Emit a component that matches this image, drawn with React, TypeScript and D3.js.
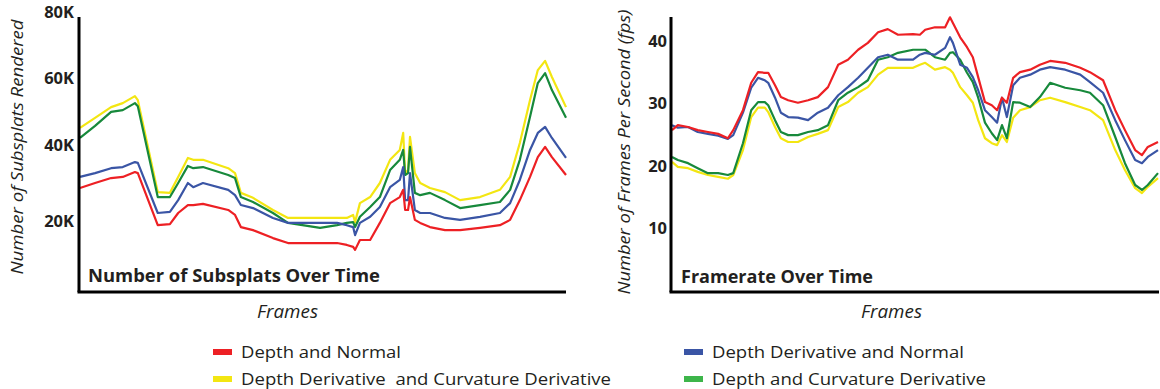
import React from "react";
import * as d3 from "d3";

// frame positions (0..1000) where the curves were sampled
const leftFrames = [
  0, 31, 64, 88, 113, 119, 160, 185, 202, 222, 233, 253, 305, 319, 331, 356, 397, 428, 494, 529,
  549, 562, 566, 576, 597, 617, 638, 658, 665, 669, 675, 679, 689, 700, 720, 751, 782, 823, 864, 885,
  905, 926, 942, 957, 971, 1000,
];

// number of subsplats rendered, in thousands
const subsplatsDepthNormal = [
  28.7, 30.0, 31.3, 31.6, 32.9, 32.6, 18.9, 19.2, 22.1, 24.2, 24.2, 24.5, 22.9, 21.6, 18.4, 17.6, 15.5, 14.2, 14.2, 14.2,
  13.7, 13.2, 12.4, 15.0, 15.0, 19.5, 24.7, 26.3, 28.2, 22.9, 22.9, 26.3, 20.3, 19.5, 18.4, 17.6, 17.6, 18.2, 18.9, 20.3,
  25.5, 31.6, 36.8, 39.5, 36.8, 32.1,
];
const subsplatsDerivNormal = [
  31.6, 32.6, 33.9, 34.2, 35.5, 35.3, 22.1, 22.4, 25.5, 30.0, 28.9, 30.0, 28.2, 26.8, 24.2, 23.4, 20.8, 19.5, 19.5, 19.5,
  18.9, 18.4, 16.3, 19.5, 21.1, 23.7, 28.9, 30.8, 34.2, 25.5, 25.5, 32.6, 22.9, 22.1, 22.1, 20.8, 20.3, 21.1, 22.1, 24.7,
  30.8, 38.7, 43.6, 45.4, 42.1, 36.6,
];
const subsplatsDerivCurv = [
  45.1, 48.1, 51.3, 52.5, 54.6, 53.4, 27.6, 27.4, 31.6, 36.6, 36.1, 36.1, 33.9, 32.6, 27.4, 26.1, 22.9, 20.8, 20.8, 20.8,
  20.8, 21.6, 19.7, 24.7, 26.3, 30.0, 36.1, 38.7, 43.6, 32.6, 33.4, 42.4, 32.6, 30.0, 28.7, 27.6, 25.5, 26.3, 28.2, 31.6,
  40.6, 53.4, 62.4, 65.2, 60.3, 51.3,
];
const subsplatsDepthCurv = [
  42.1, 45.7, 49.9, 50.4, 52.5, 51.6, 26.3, 26.3, 30.0, 34.5, 33.9, 34.2, 32.1, 31.3, 26.3, 25.0, 22.1, 19.5, 18.2, 18.9,
  19.5, 19.7, 18.4, 21.1, 23.7, 26.3, 33.4, 36.1, 38.7, 32.1, 32.6, 39.5, 27.4, 26.8, 27.4, 25.5, 23.4, 24.2, 25.0, 28.2,
  36.1, 48.4, 58.5, 61.5, 56.4, 48.1,
];

const rightFrames = [
  0, 12, 33, 53, 74, 95, 115, 126, 146, 163, 177, 191, 198, 212, 224, 239, 259, 280, 300, 321,
  342, 362, 383, 403, 424, 444, 465, 496, 510, 521, 541, 562, 572, 578, 593, 607, 619, 630, 644, 658,
  669, 679, 689, 702, 716, 737, 757, 778, 809, 840, 860, 887, 912, 932, 953, 967, 979, 1000,
];

// frames per second
const fpsDepthNormal = [
  25.7, 26.5, 26.2, 25.7, 25.4, 25.1, 24.4, 25.7, 28.9, 33.3, 35.0, 34.9, 34.9, 32.9, 31.0, 30.5, 30.1, 30.5, 31.0, 32.6,
  36.2, 37.0, 38.6, 39.7, 41.4, 41.9, 41.0, 41.1, 41.0, 41.8, 42.2, 42.2, 43.8, 42.9, 40.6, 39.0, 37.4, 34.2, 30.2, 29.7,
  28.9, 30.9, 30.1, 34.1, 35.0, 35.4, 36.2, 36.8, 36.5, 35.7, 35.0, 33.7, 28.9, 25.7, 22.5, 21.7, 23.0, 23.8,
];
const fpsDerivNormal = [
  26.5, 26.1, 26.2, 25.4, 25.1, 24.8, 24.3, 24.9, 28.5, 32.5, 34.1, 33.7, 33.3, 30.9, 28.5, 27.8, 27.7, 27.3, 28.5, 29.3,
  31.3, 32.6, 34.1, 35.7, 37.4, 37.8, 37.0, 37.0, 37.8, 38.1, 37.8, 38.9, 40.6, 39.7, 36.2, 35.7, 34.2, 32.1, 28.9, 27.8,
  26.9, 30.9, 27.8, 32.9, 34.1, 34.6, 35.4, 35.8, 35.4, 34.6, 33.4, 31.7, 27.3, 24.1, 20.9, 20.4, 21.4, 22.5,
];
const fpsDerivCurv = [
  20.6, 19.8, 19.6, 19.0, 18.5, 18.2, 17.9, 18.5, 22.5, 27.8, 29.3, 29.3, 28.6, 26.2, 24.4, 23.8, 23.8, 24.6, 25.1, 25.7,
  29.4, 30.2, 31.7, 32.6, 34.6, 35.7, 35.7, 35.7, 36.2, 36.5, 35.4, 35.8, 35.4, 34.9, 32.6, 31.3, 30.1, 27.3, 24.4, 23.6,
  23.3, 24.9, 23.8, 27.7, 28.9, 29.4, 30.5, 30.9, 30.2, 29.4, 28.9, 27.3, 22.5, 19.3, 16.4, 15.6, 16.6, 18.0,
];
const fpsDepthCurv = [
  21.4, 20.9, 20.4, 19.6, 18.8, 18.8, 18.5, 18.8, 23.6, 28.9, 30.2, 30.2, 29.7, 27.3, 25.4, 24.9, 24.9, 25.4, 25.7, 26.5,
  30.5, 31.7, 32.6, 33.7, 37.0, 37.4, 38.1, 38.6, 38.6, 38.6, 37.4, 37.0, 38.1, 38.2, 37.0, 34.9, 33.4, 30.9, 26.9, 25.2,
  24.1, 26.5, 24.4, 30.2, 30.1, 29.4, 31.0, 33.3, 32.5, 32.1, 31.7, 29.7, 24.6, 20.4, 16.9, 16.1, 16.9, 18.8,
];

const subsplatTicks = [20, 40, 60, 80];
const subsplatTickLabels = ["20K", "40K", "60K", "80K"];
const fpsTicks = [10, 20, 30, 40];
const fpsTickLabels = ["10", "20", "30", "40"];

const seriesNames = [
  "Depth and Normal",
  "Depth Derivative and Normal",
  "Depth Derivative  and Curvature Derivative",
  "Depth and Curvature Derivative",
];
const lineColors = ["#ed2024", "#3a55a5", "#f3e612", "#17893b"];
const legendColors = ["#ed2024", "#3a55a5", "#f3e612", "#3db54a"];

const INK = "#231f20";
const FONT = "'Open Sans', 'DejaVu Sans', sans-serif";

export default function App() {
  const xL = d3.scaleLinear().domain([0, 1000]).range([80, 566]);
  const yL = d3.scaleLinear().domain([20, 40, 60, 80]).range([221, 145, 78, 12]);
  const xR = d3.scaleLinear().domain([0, 1000]).range([672, 1158]);
  const yR = d3.scaleLinear().domain([10, 40]).range([228, 41]);

  const leftSeries = [subsplatsDepthNormal, subsplatsDerivNormal, subsplatsDerivCurv, subsplatsDepthCurv];
  const rightSeries = [fpsDepthNormal, fpsDerivNormal, fpsDerivCurv, fpsDepthCurv];
  const drawOrder = [2, 3, 1, 0];

  const lineL = (vals: number[]) =>
    d3.line<number>().x((_, i) => xL(leftFrames[i])).y((d) => yL(d))(vals) || "";
  const lineR = (vals: number[]) =>
    d3.line<number>().x((_, i) => xR(rightFrames[i])).y((d) => yR(d))(vals) || "";

  const legendPos = [
    { x: 213, y: 352 },
    { x: 684, y: 352 },
    { x: 213, y: 379 },
    { x: 684, y: 379 },
  ];
  const legendWidths = [160, 252, 370, 274];

  return (
    <div style={{ position: "absolute", left: 0, top: 0 }}>
      <svg width={1160} height={389} style={{ display: "block", background: "#fff" }} fontFamily={FONT}>
        {/* left chart */}
        {drawOrder.map((k) => (
          <path key={"l" + k} d={lineL(leftSeries[k])} fill="none" stroke={lineColors[k]} strokeWidth={2.2} strokeLinejoin="round" />
        ))}
        <line x1={79} y1={17} x2={79} y2={292} stroke="#000" strokeWidth={3} />
        <line x1={77.5} y1={292} x2={566} y2={292} stroke="#000" strokeWidth={3} />
        {subsplatTicks.map((t, i) => (
          <text key={t} x={74} y={yL(t)} dy="0.36em" textAnchor="end" fontWeight="bold" fontSize={16.5} fill={INK}>
            {subsplatTickLabels[i]}
          </text>
        ))}
        <text
          transform="translate(23,147) rotate(-90)"
          textAnchor="middle"
          fontStyle="italic"
          fontSize={17}
          fill={INK}
          textLength={255}
          lengthAdjust="spacingAndGlyphs"
        >
          Number of Subsplats Rendered
        </text>
        <text x={88} y={282} fontWeight="bold" fontSize={18} fill={INK} textLength={292} lengthAdjust="spacingAndGlyphs">
          Number of Subsplats Over Time
        </text>
        <text x={257} y={318} fontStyle="italic" fontSize={18} fill={INK} textLength={61} lengthAdjust="spacingAndGlyphs">
          Frames
        </text>

        {/* right chart */}
        {drawOrder.map((k) => (
          <path key={"r" + k} d={lineR(rightSeries[k])} fill="none" stroke={lineColors[k]} strokeWidth={2.2} strokeLinejoin="round" />
        ))}
        <line x1={671} y1={17} x2={671} y2={292} stroke="#000" strokeWidth={3} />
        <line x1={669.5} y1={292} x2={1159} y2={292} stroke="#000" strokeWidth={3} />
        {fpsTicks.map((t, i) => (
          <text key={t} x={667} y={yR(t)} dy="0.36em" textAnchor="end" fontWeight="bold" fontSize={16.5} fill={INK}>
            {fpsTickLabels[i]}
          </text>
        ))}
        <text
          transform="translate(630,152) rotate(-90)"
          textAnchor="middle"
          fontStyle="italic"
          fontSize={17}
          fill={INK}
          textLength={285}
          lengthAdjust="spacingAndGlyphs"
        >
          Number of Frames Per Second (fps)
        </text>
        <text x={681} y={283} fontWeight="bold" fontSize={18} fill={INK} textLength={192} lengthAdjust="spacingAndGlyphs">
          Framerate Over Time
        </text>
        <text x={861} y={318} fontStyle="italic" fontSize={18} fill={INK} textLength={61} lengthAdjust="spacingAndGlyphs">
          Frames
        </text>

        {/* legend */}
        {[0, 1, 2, 3].map((k) => (
          <g key={"lg" + k}>
            <rect x={legendPos[k].x} y={legendPos[k].y - 3} width={19} height={6} fill={legendColors[k]} />
            <text
              x={legendPos[k].x + 28}
              y={legendPos[k].y + 5.5}
              fontSize={17}
              fill={INK}
              textLength={legendWidths[k]}
              lengthAdjust="spacingAndGlyphs"
              style={{ whiteSpace: "pre" }}
            >
              {seriesNames[k]}
            </text>
          </g>
        ))}
      </svg>
    </div>
  );
}
